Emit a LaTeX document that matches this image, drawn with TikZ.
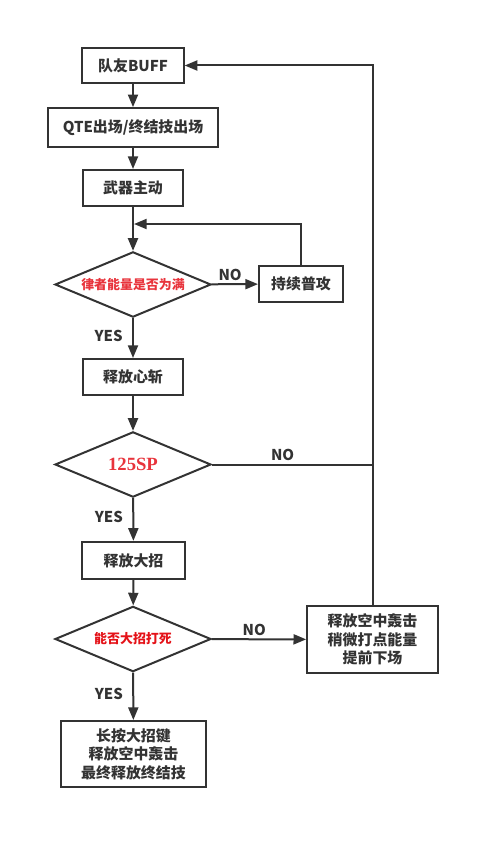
\documentclass[tikz,border=0pt]{standalone}
\usepackage{fontspec}
\setmainfont{Noto Sans CJK SC}
\newfontfamily\spfont{Liberation Serif}
\usetikzlibrary{arrows.meta,shapes.geometric}
\definecolor{lncol}{RGB}{51,51,51}
\definecolor{redtxt}{RGB}{232,52,60}
\definecolor{deepred}{RGB}{228,18,24}
\tikzset{
  stepbox/.style={draw=lncol, line width=1.5pt, fill=white, inner sep=0pt, align=center,
    text=lncol, font=\fontsize{11.2}{14}\selectfont\bfseries},
  choice/.style={diamond, draw=lncol, line width=1.5pt, inner sep=0pt, aspect=2.4,
    minimum width=117pt, minimum height=49pt, font=\fontsize{9.7}{12}\selectfont\bfseries, text=redtxt},
  flow/.style={draw=lncol, line width=1.5pt, -{Triangle[length=9.5pt,width=7.5pt]}},
  plain/.style={draw=lncol, line width=1.5pt},
  tag/.style={text=lncol, font=\fontsize{11.2}{14}\selectfont\bfseries, inner sep=2pt},
  yestag/.style={tag, left, xshift=-5pt}
}
\begin{document}
\begin{tikzpicture}[x=0.75pt,y=0.75pt,yscale=-1,xscale=1]
\useasboundingbox (0,0) rectangle (499,849);
\node [stepbox, minimum width=76pt, minimum height=26pt] (buff) at (133,65.5) {队友BUFF};
\node [stepbox, minimum width=128pt, minimum height=29pt] (qte) at (133,127.5) {QTE出场/终结技出场};
\node [stepbox, minimum width=75pt, minimum height=27pt] (wuqi) at (133,188) {武器主动};
\node [choice] (lvzhe) at (133,284.5) {律者能量是否为满};
\node [stepbox, minimum width=63pt, minimum height=27pt] (pugong) at (301,284) {持续普攻};
\node [stepbox, minimum width=75pt, minimum height=27pt] (xinzhan) at (133,377) {释放心斩};
\node [choice, font=\spfont\fontsize{14}{16}\selectfont\bfseries] (sp) at (133,464.5) {125SP};
\node [stepbox, minimum width=77pt, minimum height=28pt] (dazhao) at (133.5,560.5) {释放大招};
\node [choice, text=deepred] (dasi) at (133,639) {能否大招打死};
\node [stepbox, minimum width=98pt, minimum height=50pt] (kongzhong) at (372.5,639.5) {释放空中轰击\\稍微打点能量\\提前下场};
\node [stepbox, minimum width=109pt, minimum height=49.5pt] (zhongjie) at (133.5,754) {长按大招键\\释放空中轰击\\最终释放终结技};
\coordinate (loopin) at (134,224);
\draw [flow] (buff) -- (qte);
\draw [flow] (qte) -- (wuqi);
\draw [flow] (wuqi) -- (lvzhe);
\draw [flow] (lvzhe) -- node [tag, above, pos=0.4] {NO} (pugong);
\draw [flow] (pugong.north) |- (loopin);
\draw [flow] (lvzhe) -- node [yestag, pos=0.45] {YES} (xinzhan);
\draw [flow] (xinzhan) -- (sp);
\draw [plain] (sp.east) -- node [tag, above, pos=0.44] {NO} (sp.east -| kongzhong.north);
\draw [flow] (sp) -- node [yestag, pos=0.45] {YES} (dazhao);
\draw [flow] (dazhao) -- (dasi);
\draw [flow] (dasi) -- node [tag, above, pos=0.45] {NO} (kongzhong);
\draw [flow] (dasi) -- node [yestag, pos=0.45] {YES} (zhongjie);
\draw [flow] (kongzhong.north) |- (buff.east);
\end{tikzpicture}
\end{document}
